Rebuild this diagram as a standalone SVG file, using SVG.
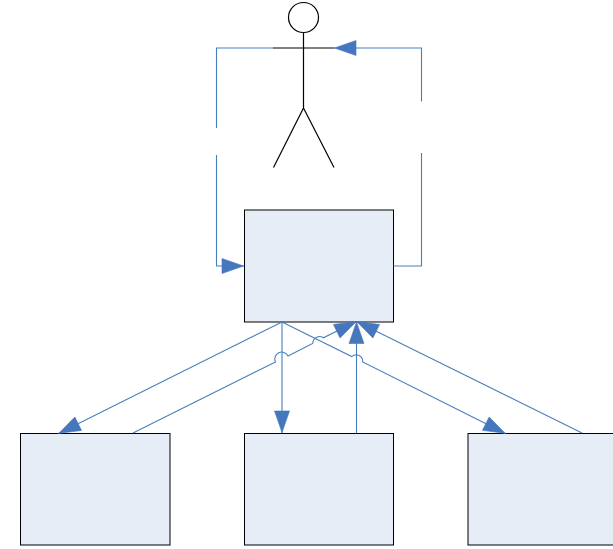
<svg xmlns="http://www.w3.org/2000/svg" width="613" height="549" viewBox="0 0 613 549">
  <style>
    .box { fill: #e6edf7; stroke: #000; stroke-width: 1; }
    .fig { fill: none; stroke: #000; stroke-width: 1.2; }
    .c { fill: none; stroke: #4a7ebb; stroke-width: 1.1; }
    .a { marker-end: url(#arrow); }
  </style>
  <defs>
    <marker id="arrow" markerUnits="userSpaceOnUse" markerWidth="24" markerHeight="20" viewBox="0 0 24 20" refX="23" refY="10" orient="auto">
      <polygon points="1,2.5 22.5,10 1,17.5" fill="#4577bf" stroke="#4577bf" stroke-width="0.6"/>
    </marker>
  </defs>
  <rect width="613" height="549" fill="#fff"/>
  <g id="actor">
    <circle class="fig" cx="303.5" cy="17.5" r="15"/>
    <path class="fig" d="M303.5 32.5V108M273 48H334M303.5 108L273.5 167.5M303.5 108L334 167.5"/>
  </g>
  <g id="box-center"><rect class="box" x="244.5" y="210" width="149" height="112"/></g>
  <g id="box-left"><rect class="box" x="20.5" y="433.5" width="149.5" height="111.5"/></g>
  <g id="box-middle"><rect class="box" x="244.5" y="433.5" width="149" height="111.5"/></g>
  <g id="box-right"><rect class="box" x="468" y="433.5" width="149.5" height="111.5"/></g>
  <g id="connectors">
    <path class="c" d="M273 48H216.5V128"/>
    <path class="c a" d="M216.5 155V266H244"/>
    <path class="c" d="M421.5 153V266H393.5"/>
    <path class="c a" d="M421.5 101.5V48H334"/>
    <path class="c a" d="M282 322L58.5 433.5"/>
    <path class="c a" d="M282 322V433"/>
    <path class="c a" d="M282 322L351.7 356.6A6.6 6.6 0 0 1 362.7 362L505.5 433.5"/>
    <path class="c a" d="M133 433L275.5 362A6.8 6.8 0 0 1 288 356L312.7 343.4A6.8 6.8 0 0 1 323.3 337.8L356.5 321.5"/>
    <path class="c a" d="M356.5 433V321.5"/>
    <path class="c a" d="M582 433L356.5 321.5"/>
  </g>
</svg>
